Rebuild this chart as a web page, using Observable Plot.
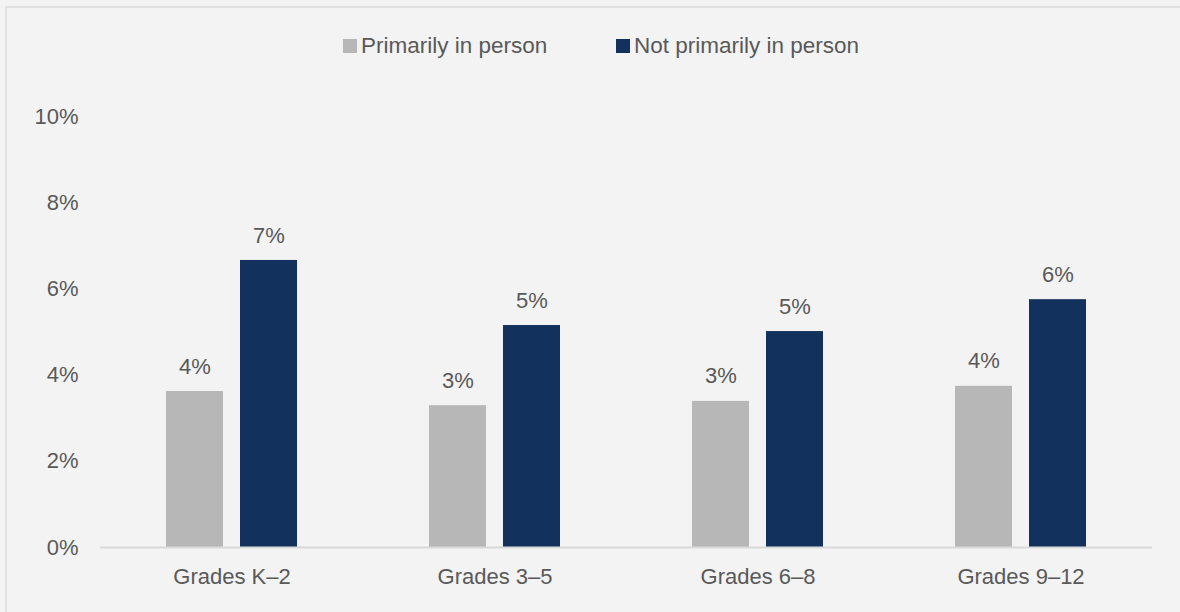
<!DOCTYPE html>
<html>
<head>
<meta charset="utf-8">
<script src="https://cdn.jsdelivr.net/npm/d3@7"></script>
<script src="https://cdn.jsdelivr.net/npm/@observablehq/plot@0.6"></script>
<style>
  html, body { margin: 0; padding: 0; background: #f3f3f3; width: 1180px; height: 612px; overflow: hidden; }
  body { font-family: "Liberation Sans", Arial, sans-serif; color: #595959; position: relative; }
  #frame { position: absolute; left: 5px; top: 6px; width: 1200px; height: 700px; border-left: 2px solid #e0e0e0; border-top: 2px solid #e0e0e0; box-sizing: border-box; }
  #legend { position: absolute; top: 0; left: 0; width: 1180px; height: 70px; }
  .item { position: absolute; top: 33px; font-size: 22.5px; line-height: 26px; display: flex; align-items: center; color: #595959; white-space: nowrap; }
  .sw { width: 14px; height: 14px; margin-right: 4px; display: inline-block; }
  #chart { position: absolute; top: 70px; left: 0; }
</style>
</head>
<body>
<div id="frame"></div>
<div id="legend"></div>
<div id="chart"></div>
<script>
const grades = ["Grades K\u20132", "Grades 3\u20135", "Grades 6\u20138", "Grades 9\u201312"];
const series = ["Primarily in person", "Not primarily in person"];
const primarilyInPerson = [3.62, 3.29, 3.39, 3.74];
const notPrimarilyInPerson = [6.66, 5.15, 5.01, 5.75];
const yTicks = [0, 2, 4, 6, 8, 10];
const colors = ["#b7b7b7", "#12315c"];

const data = [];
grades.forEach((g, i) => {
  data.push({grade: g, series: series[0], value: primarilyInPerson[i]});
  data.push({grade: g, series: series[1], value: notPrimarilyInPerson[i]});
});

// legend
const legend = document.getElementById("legend");
const legendX = [343, 616];
series.forEach((s, i) => {
  const d = document.createElement("div");
  d.className = "item";
  d.style.left = legendX[i] + "px";
  d.innerHTML = `<span class="sw" style="background:${colors[i]}"></span>${s}`;
  legend.appendChild(d);
});

const chart = Plot.plot({
  width: 1180,
  height: 542,
  marginLeft: 100,
  marginRight: 28,
  marginTop: 46,
  marginBottom: 65,
  style: {background: "transparent", fontFamily: "Liberation Sans, Arial, sans-serif", fontSize: "22px", color: "#595959"},
  fx: {domain: grades, padding: 0, label: null},
  x: {domain: series, paddingInner: 0.227, paddingOuter: 0.867, axis: null},
  y: {domain: [0, 10], ticks: yTicks, tickFormat: d => d + "%", label: null},
  color: {domain: series, range: colors},
  marks: [
    Plot.axisY({ticks: yTicks, tickFormat: d => d + "%", tickSize: 0, tickPadding: 22, fontSize: 22, label: null, fill: "#595959"}),
    Plot.axisFx({anchor: "bottom", tickSize: 0, tickPadding: 21, fontSize: 22, label: null, fill: "#595959"}),
    Plot.barY(data, {fx: "grade", x: "series", y: "value", fill: "series"}),
    Plot.text(data, {fx: "grade", x: "series", y: "value", text: d => Math.round(d.value) + "%", dy: -25, fontSize: 22, fill: "#595959"}),
    Plot.ruleY([0], {stroke: "#d9d9d9", strokeWidth: 2})
  ]
});
document.getElementById("chart").appendChild(chart);
</script>
</body>
</html>
